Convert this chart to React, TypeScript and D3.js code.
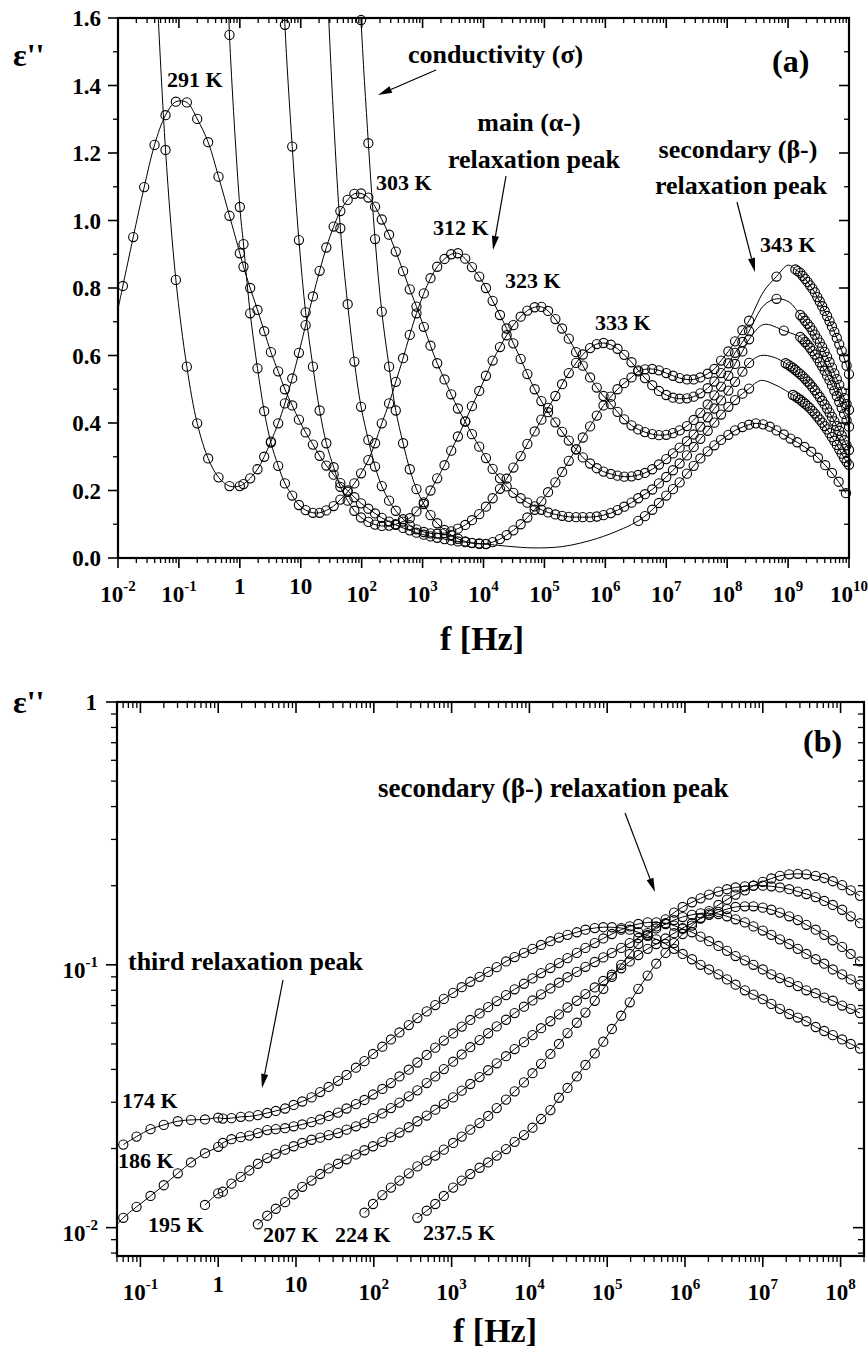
import React from "react";
import * as d3 from "d3";

// ---------- frequency grids: log10(f / Hz) ----------
const LOGF_LO = [-1.92, -1.75, -1.57, -1.4, -1.22, -1.05, -0.87, -0.7, -0.52, -0.35, -0.17, 0.0];
const LOGF_HI = [
  0.06, 0.17, 0.29, 0.4, 0.51, 0.63, 0.74, 0.86, 0.97, 1.08,
  1.2, 1.31, 1.42, 1.54, 1.65, 1.77, 1.88, 1.99, 2.11, 2.22,
  2.33, 2.45, 2.56, 2.68, 2.79, 2.9, 3.02, 3.13, 3.24, 3.36,
  3.47, 3.58, 3.7, 3.81, 3.93, 4.04, 4.15, 4.27, 4.38, 4.49,
  4.61, 4.72, 4.84, 4.95, 5.06, 5.18, 5.29, 5.4, 5.52, 5.63,
  5.75, 5.86, 5.97, 6.09, 6.2, 6.31, 6.43, 6.54, 6.65, 6.77,
  6.88, 7.0, 7.11, 7.22, 7.34, 7.45, 7.56, 7.68, 7.79, 7.9,
  8.02, 8.13, 8.25, 8.36, 8.47, 8.59, 8.7, 8.81, 8.93, 9.04,
  9.15, 9.27, 9.38, 9.49, 9.61, 9.72, 9.83, 9.95,
];
const LOGF_DENSE = [
  8.96, 9.0, 9.04, 9.08, 9.12, 9.16, 9.2, 9.24, 9.28, 9.32, 9.36, 9.4, 9.44, 9.48,
  9.52, 9.56, 9.6, 9.64, 9.68, 9.72, 9.76, 9.8, 9.84, 9.88, 9.92, 9.96, 10.0,
];

// ---------- panel (a): eps'' ----------
const A291_LO = [0.806, 0.951, 1.099, 1.224, 1.312, 1.352, 1.35, 1.301, 1.232, 1.13, 1.014, 0.903];
const A291_HI = [
  0.863, 0.8, 0.735, 0.672, 0.61, 0.553, 0.5, 0.452, 0.41, 0.372,
  0.336, 0.303, 0.274, 0.247, 0.222, 0.2, 0.18, 0.162, 0.146, 0.132,
  0.119, 0.108, 0.098, 0.089, 0.082, 0.075, 0.069, 0.064, 0.06, 0.056,
  0.052, 0.049, 0.047, 0.045, 0.043, 0.041, null, null, null, null,
  null, null, null, null, null, null, null, null, null, null,
  null, null, null, null, null, null, null, 0.11, 0.124, 0.143,
  0.163, 0.185, 0.204, 0.224, 0.25, 0.273, 0.295, 0.316, 0.334, 0.35,
  0.365, 0.378, 0.388, 0.395, 0.399, 0.396, 0.389, 0.378, 0.366, 0.354,
  0.343, 0.329, 0.315, 0.297, 0.275, 0.252, 0.226, 0.192,
];
const A291_FIT = [[-2.02, 0.72], [4.45, 0.034], [4.8, 0.03], [5.3, 0.034], [5.85, 0.057], [6.3, 0.088]];

const A303_LO = [null, null, null, null, 1.209, 0.824, 0.567, 0.399, 0.295, 0.239, 0.213, 0.213];
const A303_HI = [
  0.219, 0.236, 0.263, 0.3, 0.345, 0.399, 0.458, 0.532, 0.608, 0.69,
  0.775, 0.851, 0.92, 0.982, 1.028, 1.061, 1.079, 1.08, 1.068, 1.041,
  1.003, 0.958, 0.908, 0.85, 0.796, 0.745, 0.685, 0.629, 0.577, 0.529,
  0.485, 0.443, 0.404, 0.367, 0.33, 0.296, 0.264, 0.236, 0.212, 0.193,
  0.177, 0.164, 0.153, 0.143, 0.135, 0.129, 0.125, 0.122, 0.121, 0.121,
  0.121, 0.123, 0.127, 0.133, 0.142, 0.152, 0.164, 0.177, 0.189, 0.203,
  0.221, 0.24, 0.26, 0.28, 0.304, 0.329, 0.353, 0.377, 0.401, 0.425,
  0.448, 0.468, 0.487, 0.502,
];
const A303_DENSE = [
  0.483, 0.479, 0.474, 0.469, 0.463, 0.457, 0.451, 0.444, 0.436, 0.428, 0.419, 0.41,
  0.401, 0.391, 0.381, 0.37, 0.358, 0.347, 0.335, 0.322, 0.309, 0.296, 0.285, 0.276,
];
const A303_FIT = [[-1.38, 1.75], [8.55, 0.526], [8.8, 0.512]];

const A312_LO = [null, null, null, null, null, null, null, null, null, null, 1.55, 1.04];
const A312_HI = [
  0.93, 0.725, 0.562, 0.435, 0.342, 0.273, 0.221, 0.185, 0.157, 0.142,
  0.134, 0.134, 0.141, 0.154, 0.173, 0.196, 0.221, 0.251, 0.29, 0.34,
  0.399, 0.458, 0.522, 0.592, 0.661, 0.725, 0.784, 0.829, 0.863, 0.886,
  0.9, 0.903, 0.887, 0.862, 0.834, 0.8, 0.762, 0.72, 0.68, 0.636,
  0.59, 0.545, 0.5, 0.465, 0.432, 0.402, 0.374, 0.348, 0.322, 0.298,
  0.28, 0.266, 0.256, 0.249, 0.244, 0.241, 0.242, 0.246, 0.252, 0.263,
  0.277, 0.293, 0.31, 0.327, 0.346, 0.366, 0.389, 0.417, 0.443, 0.467,
  0.496, 0.522, 0.552, 0.578,
];
const A312_DENSE = [
  0.577, 0.573, 0.568, 0.563, 0.557, 0.551, 0.545, 0.538, 0.531, 0.523, 0.515, 0.506, 0.497,
  0.487, 0.477, 0.466, 0.455, 0.443, 0.431, 0.418, 0.405, 0.391, 0.377, 0.363, 0.349, 0.334, 0.32,
];
const A312_FIT = [[-0.2, 1.75], [8.55, 0.6], [8.78, 0.594]];

const A323_HI = [
  1.58, 1.219, 0.942, 0.728,
  0.567, 0.437, 0.34, 0.269, 0.211, 0.17, 0.14, 0.12, 0.107, 0.099,
  0.095, 0.096, 0.1, 0.108, 0.118, 0.138, 0.165, 0.2, 0.236, 0.275,
  0.318, 0.36, 0.405, 0.45, 0.495, 0.54, 0.585, 0.625, 0.66, 0.69,
  0.715, 0.733, 0.743, 0.744, 0.732, 0.708, 0.68, 0.65, 0.61, 0.57,
  0.535, 0.505, 0.48, 0.456, 0.433, 0.411, 0.393, 0.381, 0.373, 0.367,
  0.364, 0.365, 0.37, 0.378, 0.391, 0.409, 0.43, 0.455, 0.482, 0.508,
  0.54, 0.575, 0.612, 0.648,
];
const A323_DENSE = [
  0.655, 0.648, 0.64, 0.632, 0.623, 0.613, 0.603, 0.592, 0.58, 0.568, 0.555,
  0.541, 0.527, 0.512, 0.496, 0.48, 0.463, 0.445, 0.427, 0.408, 0.389,
];
const A323_EXTRA = [[8.93, 0.674]];
const A323_FIT = [[0.7, 1.8], [8.6, 0.692], [9.08, 0.664]];

const A333_HI = [
  0.977, 0.752, 0.582, 0.448, 0.35, 0.271,
  0.213, 0.17, 0.14, 0.115, 0.097, 0.085, 0.077, 0.073, 0.072, 0.074,
  0.079, 0.087, 0.098, 0.112, 0.13, 0.152, 0.177, 0.205, 0.235, 0.268,
  0.302, 0.338, 0.375, 0.41, 0.445, 0.48, 0.515, 0.548, 0.578, 0.603,
  0.622, 0.634, 0.637, 0.632, 0.62, 0.602, 0.58, 0.556, 0.533, 0.512,
  0.495, 0.483, 0.475, 0.472, 0.473, 0.478, 0.488, 0.503, 0.523, 0.548,
  0.577, 0.608, 0.64, 0.672,
];
const A333_DENSE = [
  0.72, 0.712, 0.703, 0.694, 0.685, 0.674, 0.662, 0.65, 0.638, 0.625, 0.611,
  0.596, 0.58, 0.564, 0.547, 0.53, 0.513, 0.493, 0.474, 0.456, 0.439,
];
const A333_EXTRA = [[8.81, 0.768]];
const A333_FIT = [[1.42, 1.75], [1.54, 1.3], [8.6, 0.748], [9.02, 0.758]];

const A343_HI = [
  1.594, 1.229, 0.945,
  0.73, 0.567, 0.437, 0.34, 0.263, 0.204, 0.16, 0.127, 0.103, 0.083,
  0.068, 0.057, 0.049, 0.044, 0.042, 0.042, 0.047, 0.056, 0.068, 0.082,
  0.1, 0.12, 0.143, 0.168, 0.195, 0.224, 0.255, 0.288, 0.322, 0.357,
  0.39, 0.422, 0.452, 0.478, 0.5, 0.518, 0.535, 0.553, 0.559, 0.56,
  0.556, 0.548, 0.54, 0.533, 0.529, 0.529, 0.535, 0.546, 0.56, 0.585,
  0.612, 0.642, 0.675, 0.703,
];
const A343_DENSE = [
  0.855, 0.85, 0.845, 0.836, 0.827, 0.818, 0.808, 0.798, 0.787, 0.773, 0.76, 0.746,
  0.732, 0.717, 0.702, 0.686, 0.67, 0.652, 0.633, 0.614, 0.593, 0.57, 0.545,
];
const A343_EXTRA = [[8.81, 0.834]];
const A343_FIT = [[1.95, 1.8], [8.6, 0.79], [9.0, 0.868]];

// ---------- panel (b): eps'' ----------
const B174_LO = [0.0207, 0.0222, 0.0237, 0.0246, 0.0254, 0.0257, 0.0258, 0.0262];
const B174_HI = [
  0.026, 0.0261, 0.0264, 0.0265, 0.0268, 0.0273, 0.0278, 0.0284, 0.0293, 0.0302,
  0.0313, 0.0328, 0.0343, 0.0362, 0.0381, 0.0406, 0.043, 0.0458, 0.0488, 0.052,
  0.0553, 0.059, 0.0627, 0.0665, 0.0703, 0.0742, 0.0782, 0.0822, 0.0862, 0.09,
  0.094, 0.098, 0.103, 0.107, 0.111, 0.115, 0.119, 0.123, 0.127, 0.13,
  0.133, 0.136, 0.138, 0.139, 0.139, 0.138, 0.136, 0.133, 0.129, 0.125,
  0.12, 0.115, 0.11, 0.105, 0.1, 0.096, 0.092, 0.088, 0.084, 0.08,
  0.077, 0.074, 0.071, 0.068, 0.065, 0.063, 0.061, 0.058, 0.056, 0.054,
  0.052, 0.05, 0.048,
];
const B186_LO = [0.0109, 0.012, 0.0132, 0.0145, 0.0161, 0.0177, 0.0192, 0.0203];
const B186_HI = [
  0.021, 0.0217, 0.0221, 0.0224, 0.0229, 0.0235, 0.0237, 0.0239, 0.0243, 0.0247,
  0.0252, 0.0258, 0.0266, 0.0274, 0.0284, 0.0295, 0.0306, 0.0321, 0.0337, 0.0355,
  0.0376, 0.0399, 0.0425, 0.0454, 0.0484, 0.0515, 0.0548, 0.0582, 0.0617, 0.0653,
  0.069, 0.0728, 0.0767, 0.0807, 0.0847, 0.0888, 0.093, 0.0972, 0.1015, 0.106,
  0.111, 0.116, 0.121, 0.126, 0.131, 0.136, 0.14, 0.143, 0.145, 0.145,
  0.144, 0.141, 0.137, 0.133, 0.128, 0.123, 0.118, 0.113, 0.108, 0.104,
  0.1, 0.096, 0.092, 0.089, 0.086, 0.083, 0.08, 0.078, 0.075, 0.073,
  0.07, 0.068, 0.0655,
];
const B186_FIT = [[-1.3, 0.0103]];
const B195_LO = [0.0122, 0.0135];
const B195_HI = [
  0.0137, 0.0147, 0.0156, 0.0165, 0.0175, 0.0184, 0.0191, 0.0198, 0.0204, 0.021,
  0.0216, 0.022, 0.0225, 0.0229, 0.0236, 0.0243, 0.025, 0.0261, 0.0272, 0.0285,
  0.0299, 0.0316, 0.0333, 0.0355, 0.0376, 0.0401, 0.0428, 0.0456, 0.0486, 0.0517,
  0.0549, 0.0583, 0.0618, 0.0655, 0.0693, 0.0732, 0.0772, 0.0813, 0.0855, 0.0897,
  0.094, 0.0983, 0.1025, 0.1067, 0.111, 0.116, 0.121, 0.1265, 0.132, 0.1375,
  0.143, 0.148, 0.152, 0.155, 0.157, 0.157, 0.156, 0.153, 0.149, 0.145,
  0.14, 0.135, 0.13, 0.125, 0.12, 0.115, 0.11, 0.105, 0.101, 0.096,
  0.092, 0.088, 0.084,
];
const B207_HI = [
  0.0103, 0.0111, 0.0118, 0.0125, 0.0134, 0.0143,
  0.0151, 0.016, 0.0168, 0.0175, 0.0182, 0.019, 0.0197, 0.0204, 0.0212, 0.0221,
  0.023, 0.0241, 0.0254, 0.0267, 0.0281, 0.0296, 0.0313, 0.0332, 0.0352, 0.0374,
  0.0397, 0.0422, 0.0449, 0.0478, 0.0508, 0.054, 0.0574, 0.061, 0.0648, 0.0688,
  0.073, 0.0774, 0.082, 0.0868, 0.0917, 0.097, 0.103, 0.109, 0.115, 0.12,
  0.126, 0.132, 0.138, 0.144, 0.15, 0.155, 0.159, 0.163, 0.166, 0.167,
  0.167, 0.165, 0.162, 0.158, 0.153, 0.148, 0.142, 0.136, 0.13, 0.124,
  0.117, 0.11, 0.103,
];
const B224_HI = [
  0.0114, 0.0123, 0.0133, 0.0142,
  0.0151, 0.0161, 0.0171, 0.018, 0.0188, 0.0198, 0.021, 0.0222, 0.0236, 0.025,
  0.0266, 0.0285, 0.0307, 0.033, 0.0357, 0.0387, 0.042, 0.0458, 0.05, 0.055,
  0.0602, 0.0658, 0.073, 0.081, 0.09, 0.1, 0.11, 0.12, 0.13, 0.14,
  0.149, 0.158, 0.166, 0.173, 0.179, 0.185, 0.19, 0.194, 0.197, 0.199,
  0.2, 0.2, 0.199, 0.197, 0.194, 0.19, 0.186, 0.181, 0.175, 0.169,
  0.162, 0.153, 0.144,
];
const B237_HI = [
  0.0109, 0.0116, 0.0123, 0.0132, 0.0142, 0.0151, 0.016, 0.0169,
  0.0177, 0.0188, 0.0199, 0.0212, 0.0225, 0.024, 0.0259, 0.028, 0.0312, 0.034,
  0.0376, 0.0416, 0.046, 0.051, 0.057, 0.064, 0.072, 0.081, 0.091, 0.101,
  0.111, 0.121, 0.131, 0.141, 0.151, 0.16, 0.169, 0.177, 0.185, 0.192,
  0.2, 0.207, 0.213, 0.218, 0.221, 0.222, 0.221, 0.218, 0.214, 0.208,
  0.201, 0.192, 0.183,
];

const SERIES_A = [
  { lo: A291_LO, loStart: 0, hi: A291_HI, hiStart: 0, dense: null, denseStart: 0, extra: [], fit: A291_FIT },
  { lo: A303_LO, loStart: 0, hi: A303_HI, hiStart: 0, dense: A303_DENSE, denseStart: 3, extra: [], fit: A303_FIT },
  { lo: A312_LO, loStart: 0, hi: A312_HI, hiStart: 0, dense: A312_DENSE, denseStart: 0, extra: [], fit: A312_FIT },
  { lo: null, loStart: 0, hi: A323_HI, hiStart: 6, dense: A323_DENSE, denseStart: 6, extra: A323_EXTRA, fit: A323_FIT },
  { lo: null, loStart: 0, hi: A333_HI, hiStart: 14, dense: A333_DENSE, denseStart: 6, extra: A333_EXTRA, fit: A333_FIT },
  { lo: null, loStart: 0, hi: A343_HI, hiStart: 17, dense: A343_DENSE, denseStart: 4, extra: A343_EXTRA, fit: A343_FIT },
];
const SERIES_B = [
  { lo: B174_LO, loStart: 4, hi: B174_HI, hiStart: 0, dense: null, denseStart: 0, extra: [], fit: [] },
  { lo: B186_LO, loStart: 4, hi: B186_HI, hiStart: 0, dense: null, denseStart: 0, extra: [], fit: B186_FIT },
  { lo: B195_LO, loStart: 10, hi: B195_HI, hiStart: 0, dense: null, denseStart: 0, extra: [], fit: [] },
  { lo: null, loStart: 0, hi: B207_HI, hiStart: 4, dense: null, denseStart: 0, extra: [], fit: [] },
  { lo: null, loStart: 0, hi: B224_HI, hiStart: 16, dense: null, denseStart: 0, extra: [], fit: [] },
  { lo: null, loStart: 0, hi: B237_HI, hiStart: 22, dense: null, denseStart: 0, extra: [], fit: [] },
];

const LABELS_A = [
  { t: "291 K", x: 167, y: 87 },
  { t: "303 K", x: 376, y: 190 },
  { t: "312 K", x: 433, y: 235 },
  { t: "323 K", x: 505, y: 288 },
  { t: "333 K", x: 595, y: 330 },
  { t: "343 K", x: 760, y: 252 },
];
const LABELS_B = [
  { t: "174 K", x: 122, y: 1108 },
  { t: "186 K", x: 118, y: 1168 },
  { t: "195 K", x: 148, y: 1232 },
  { t: "207 K", x: 263, y: 1242 },
  { t: "224 K", x: 335, y: 1242 },
  { t: "237.5 K", x: 423, y: 1240 },
];

type Pt = [number, number];
function gridPts(grid: number[], vals: (number | null)[] | null, start: number): Pt[] {
  const out: Pt[] = [];
  if (!vals) return out;
  vals.forEach((v, i) => {
    if (v !== null && v !== undefined) out.push([grid[start + i], v]);
  });
  return out;
}
function seriesPts(s: any) {
  const circles: Pt[] = [
    ...gridPts(LOGF_LO, s.lo, s.loStart),
    ...gridPts(LOGF_HI, s.hi, s.hiStart),
    ...(s.extra as Pt[]),
    ...gridPts(LOGF_DENSE, s.dense, s.denseStart),
  ];
  const line: Pt[] = [...circles, ...(s.fit as Pt[])].sort((a, b) => a[0] - b[0]);
  return { circles, line };
}

const FONT = "'Liberation Serif', 'Times New Roman', Times, serif";
const TICK_FS = 23;
const SUP_FS = 15;

function logTicks(lo: number, hi: number) {
  const major: number[] = [];
  const minor: number[] = [];
  for (let e = Math.floor(Math.log10(lo)) - 1; e <= Math.ceil(Math.log10(hi)); e++) {
    for (let m = 1; m <= 9; m++) {
      const v = m * Math.pow(10, e);
      if (v < lo * 0.9999 || v > hi * 1.0001) continue;
      (m === 1 ? major : minor).push(v);
    }
  }
  return { major, minor };
}

function PowLabel({ x, y, v }: any) {
  const e = Math.round(Math.log10(v));
  if (e === 0) return <text x={x} y={y - 8} textAnchor="middle" fontSize={TICK_FS}>1</text>;
  if (e === 1) return <text x={x} y={y - 8} textAnchor="middle" fontSize={TICK_FS}>10</text>;
  return (
    <text x={x} y={y} textAnchor="middle" fontSize={TICK_FS}>
      10<tspan dy={-11} fontSize={SUP_FS}>{String(e)}</tspan>
    </text>
  );
}

function Arrow({ x1, y1, x2, y2 }: any) {
  const dx = x2 - x1, dy = y2 - y1;
  const L = Math.hypot(dx, dy);
  const ux = dx / L, uy = dy / L;
  const hl = 14, hw = 3.6;
  const bx = x2 - ux * hl, by = y2 - uy * hl;
  const p = `${x2},${y2} ${bx - uy * hw},${by + ux * hw} ${bx + uy * hw},${by - ux * hw}`;
  return (
    <g>
      <line x1={x1} y1={y1} x2={bx} y2={by} stroke="#000" strokeWidth={1.2} />
      <polygon points={p} fill="#000" />
    </g>
  );
}

function Panel({ xs, ys, series, clipId, yLinear, tickLen }: any) {
  const [x0, x1] = xs.range();
  const [y0, y1] = ys.range();
  const line = d3
    .line<Pt>()
    .x((d) => xs(Math.pow(10, d[0])))
    .y((d) => ys(d[1]))
    .curve(d3.curveCatmullRom.alpha(0.5));
  const xt = logTicks(xs.domain()[0], xs.domain()[1]);
  let yMajor: number[], yMinor: number[];
  if (yLinear) {
    yMajor = d3.range(0, 1.61, 0.2);
    yMinor = d3.range(0.1, 1.6, 0.2);
  } else {
    const t = logTicks(ys.domain()[0], ys.domain()[1]);
    yMajor = t.major;
    yMinor = t.minor;
  }
  const [TM, Tm] = tickLen;
  const data = series.map(seriesPts);
  return (
    <g>
      <defs>
        <clipPath id={clipId}>
          <rect x={x0} y={y1} width={x1 - x0} height={y0 - y1} />
        </clipPath>
      </defs>
      <g clipPath={`url(#${clipId})`}>
        {data.map((d: any, i: number) => (
          <path key={i} d={line(d.line) || ""} fill="none" stroke="#000" strokeWidth={1} />
        ))}
      </g>
      {data.map((d: any, i: number) => (
        <g key={i}>
          {d.circles.map((p: Pt, j: number) => (
            <circle key={j} cx={xs(Math.pow(10, p[0]))} cy={ys(p[1])} r={4.6} fill="none" stroke="#000" strokeWidth={1.1} />
          ))}
        </g>
      ))}
      {xt.major.map((v: number, i: number) => (
        <g key={"xM" + i}>
          <line x1={xs(v)} x2={xs(v)} y1={y0} y2={y0 + TM} stroke="#000" strokeWidth={1.6} />
          <line x1={xs(v)} x2={xs(v)} y1={y1} y2={y1 + TM} stroke="#000" strokeWidth={1.6} />
        </g>
      ))}
      {xt.minor.map((v: number, i: number) => (
        <g key={"xm" + i}>
          <line x1={xs(v)} x2={xs(v)} y1={y0} y2={y0 + Tm} stroke="#000" strokeWidth={1.3} />
          <line x1={xs(v)} x2={xs(v)} y1={y1} y2={y1 + Tm} stroke="#000" strokeWidth={1.3} />
        </g>
      ))}
      {yMajor.map((v: number, i: number) => (
        <g key={"yM" + i}>
          <line x1={x0 - TM} x2={x0} y1={ys(v)} y2={ys(v)} stroke="#000" strokeWidth={1.6} />
          <line x1={x1 - TM} x2={x1} y1={ys(v)} y2={ys(v)} stroke="#000" strokeWidth={1.6} />
        </g>
      ))}
      {yMinor.map((v: number, i: number) => (
        <g key={"ym" + i}>
          <line x1={x0 - Tm} x2={x0} y1={ys(v)} y2={ys(v)} stroke="#000" strokeWidth={1.3} />
          <line x1={x1 - Tm} x2={x1} y1={ys(v)} y2={ys(v)} stroke="#000" strokeWidth={1.3} />
        </g>
      ))}
      <rect x={x0} y={y1} width={x1 - x0} height={y0 - y1} fill="none" stroke="#000" strokeWidth={2.2} />
      {xt.major.map((v: number, i: number) => (
        <PowLabel key={"xl" + i} x={xs(v)} y={y0 + 44} v={v} />
      ))}
      {yLinear
        ? yMajor.map((v: number, i: number) => (
            <text key={"yl" + i} x={x0 - 17} y={ys(v) + 8} textAnchor="end" fontSize={TICK_FS}>
              {v.toFixed(1)}
            </text>
          ))
        : yMajor.map((v: number, i: number) => {
            const e = Math.round(Math.log10(v));
            if (e === 0)
              return (
                <text key={"yl" + i} x={x0 - 20} y={ys(v) + 8} textAnchor="end" fontSize={TICK_FS}>
                  1
                </text>
              );
            return (
              <text key={"yl" + i} x={x0 - 19} y={ys(v) + 13} textAnchor="end" fontSize={TICK_FS}>
                10<tspan dy={-11} fontSize={SUP_FS}>{String(e)}</tspan>
              </text>
            );
          })}
    </g>
  );
}

export default function App() {
  const xA = d3.scaleLog().domain([1e-2, 1e10]).range([118, 849]);
  const yA = d3.scaleLinear().domain([0, 1.6]).range([558, 18]);
  const xB = d3.scaleLog().domain([0.05, 2e8]).range([117, 864]);
  const yB = d3.scaleLog().domain([0.0078, 1]).range([1256, 702]);
  return (
    <svg
      width={868}
      height={1351}
      style={{ position: "absolute", left: 0, top: 0, background: "#fff" }}
      fontFamily={FONT}
      fontWeight="bold"
    >
      <rect x={0} y={0} width={868} height={1351} fill="#fff" />
      <Panel xs={xA} ys={yA} series={SERIES_A} clipId="clipA" yLinear={true} tickLen={[10, 5]} />
      <Panel xs={xB} ys={yB} series={SERIES_B} clipId="clipB" yLinear={false} tickLen={[11, 6]} />

      <text x={13} y={66} fontSize={32}>ε''</text>
      <text x={13} y={713} fontSize={32}>ε''</text>
      <text x={482} y={650} fontSize={34} textAnchor="middle">f [Hz]</text>
      <text x={495} y={1342} fontSize={34} textAnchor="middle">f [Hz]</text>

      <text x={772} y={72} fontSize={32}>(a)</text>
      {LABELS_A.map((l, i) => (
        <text key={i} x={l.x} y={l.y} fontSize={22}>{l.t}</text>
      ))}
      <text x={408} y={63} fontSize={26}>conductivity (σ)</text>
      <Arrow x1={436} y1={70} x2={378} y2={95} />
      <text x={529} y={131} fontSize={26} textAnchor="middle">main (α-)</text>
      <text x={534} y={168} fontSize={26} textAnchor="middle">relaxation peak</text>
      <Arrow x1={506} y1={176} x2={493} y2={250} />
      <text x={738} y={158} fontSize={26} textAnchor="middle">secondary (β-)</text>
      <text x={741} y={194} fontSize={26} textAnchor="middle">relaxation peak</text>
      <Arrow x1={737} y1={202} x2={755} y2={272} />

      <text x={803} y={752} fontSize={32}>(b)</text>
      {LABELS_B.map((l, i) => (
        <text key={i} x={l.x} y={l.y} fontSize={22}>{l.t}</text>
      ))}
      <text x={378} y={797} fontSize={27}>secondary (β-) relaxation peak</text>
      <Arrow x1={625} y1={813} x2={655} y2={892} />
      <text x={128} y={970} fontSize={26}>third relaxation peak</text>
      <Arrow x1={283} y1={980} x2={262} y2={1088} />
    </svg>
  );
}
